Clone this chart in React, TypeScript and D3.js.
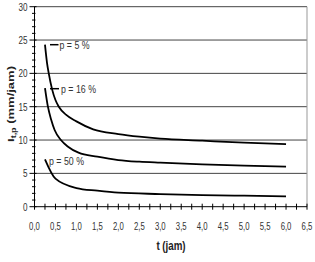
import React from "react";
import * as d3 from "d3";

const W = 315;
const H = 262;

const p5T = [0.25, 0.3, 0.34, 0.42, 0.5, 0.58, 0.75, 1.0, 1.4, 2.0, 2.5, 3.0, 4.0, 5.0, 6.0];
const p5V = [24.3, 21.5, 20.0, 17.6, 16.0, 15.0, 13.8, 12.8, 11.6, 10.9, 10.5, 10.2, 9.9, 9.6, 9.4];

const p16T = [0.25, 0.32, 0.4, 0.48, 0.63, 0.8, 1.05, 1.5, 2.0, 2.5, 3.0, 4.0, 5.0, 6.0];
const p16V = [17.8, 15.0, 13.0, 11.5, 10.0, 9.0, 8.1, 7.5, 7.0, 6.75, 6.6, 6.35, 6.15, 6.0];

const p50T = [0.25, 0.5, 1.0, 1.5, 2.0, 3.0, 4.0, 5.0, 6.0];
const p50V = [7.1, 4.2, 2.8, 2.4, 2.1, 1.9, 1.75, 1.65, 1.55];

const seriesLabels = ["p = 5 %", "p = 16 %", "p = 50 %"];
const xTicks = [0, 0.5, 1, 1.5, 2, 2.5, 3, 3.5, 4, 4.5, 5, 5.5, 6, 6.5];
const yTicks = [0, 5, 10, 15, 20, 25, 30];

const FONT = "'Liberation Sans', Arial, sans-serif";

function NText(props: {
  x: number;
  y: number;
  sx: number;
  anchor?: "start" | "middle" | "end";
  size: number;
  weight?: string;
  fill?: string;
  dy?: string;
  children: React.ReactNode;
}) {
  return (
    <g transform={`translate(${props.x},${props.y}) scale(${props.sx},1)`}>
      <text
        x={0}
        y={0}
        dy={props.dy}
        textAnchor={props.anchor || "start"}
        fontSize={props.size}
        fontWeight={props.weight || "normal"}
        fill={props.fill || "#333"}
      >
        {props.children}
      </text>
    </g>
  );
}

export default function App() {
  const x = d3.scaleLinear().domain([0, 6.5]).range([34.5, 307]);
  const y = d3.scaleLinear().domain([0, 30]).range([206.7, 6.7]);

  const line = d3
    .line<[number, number]>()
    .x((d) => x(d[0]))
    .y((d) => y(d[1]))
    .curve(d3.curveMonotoneX);

  const mk = (t: number[], v: number[]) => t.map((tt, i) => [tt, v[i]] as [number, number]);
  const series = [mk(p5T, p5V), mk(p16T, p16V), mk(p50T, p50V)];

  const xMinor = d3.range(0, 6.5001, 0.25);
  const yMinor = d3.range(0, 30.001, 1);
  const fmt = (v: number) => v.toFixed(1).replace(".", ",");

  return (
    <svg
      width={W}
      height={H}
      style={{ position: "absolute", left: 0, top: 0, background: "#fff" }}
      fontFamily={FONT}
    >
      <rect x={0} y={0} width={W} height={H} fill="#fff" />
      {/* gridlines */}
      {yTicks.filter((v) => v > 0).map((v) => (
        <line key={"g" + v} x1={x(0)} x2={x(6.5)} y1={y(v)} y2={y(v)} stroke="#444" strokeWidth={1} />
      ))}
      {/* right border */}
      <line x1={x(6.5)} x2={x(6.5)} y1={y(30)} y2={y(0)} stroke="#999" strokeWidth={1} />
      {/* y axis */}
      <line x1={x(0)} x2={x(0)} y1={y(30)} y2={y(0)} stroke="#000" strokeWidth={1} />
      {yMinor.map((v) => (
        <line key={"ym" + v} x1={x(0) - (v % 5 === 0 ? 5 : 2.5)} x2={x(0) + (v % 5 === 0 ? 2 : 1)} y1={y(v)} y2={y(v)} stroke="#000" strokeWidth={1} />
      ))}
      {yTicks.map((v) => (
        <NText key={"yl" + v} x={27.5} y={y(v)} sx={0.74} dy="0.36em" anchor="end" size={11}>
          {v}
        </NText>
      ))}
      {/* x axis */}
      <line x1={x(0)} x2={x(6.5)} y1={y(0)} y2={y(0)} stroke="#000" strokeWidth={1} />
      {xMinor.map((v) => (
        <line key={"xm" + v} x1={x(v)} x2={x(v)} y1={y(0) - 3} y2={y(0) + 3} stroke="#000" strokeWidth={1} />
      ))}
      {xTicks.map((v) => (
        <NText key={"xl" + v} x={x(v)} y={229.5} sx={0.74} anchor="middle" size={10.5}>
          {fmt(v)}
        </NText>
      ))}
      {/* curves */}
      {series.map((s, i) => (
        <path key={"s" + i} d={line(s) || ""} fill="none" stroke="#000" strokeWidth={1.8} />
      ))}
      {/* series labels */}
      <line x1={50} x2={58.5} y1={y(24.3)} y2={y(24.3)} stroke="#000" strokeWidth={1.5} />
      <NText x={59.5} y={y(24.3)} sx={0.8} dy="0.36em" size={11}>{seriesLabels[0]}</NText>
      <line x1={50} x2={59} y1={y(17.7)} y2={y(17.7)} stroke="#000" strokeWidth={1.5} />
      <NText x={61} y={y(17.7)} sx={0.8} dy="0.36em" size={11}>{seriesLabels[1]}</NText>
      <NText x={49} y={y(6.8)} sx={0.8} dy="0.36em" size={11}>{seriesLabels[2]}</NText>
      {/* axis titles */}
      <NText x={171} y={250} sx={0.75} anchor="middle" size={13} weight="bold" fill="#222">
        t (jam)
      </NText>
      <g transform="translate(14,104) scale(0.75,1) rotate(-90)">
        <text x={0} y={0} textAnchor="middle" fontSize={13} fontWeight="bold" fill="#222">
          I<tspan fontSize={9} dy={3}>t,p</tspan>
          <tspan dy={-3}> (mm/jam)</tspan>
        </text>
      </g>
    </svg>
  );
}
